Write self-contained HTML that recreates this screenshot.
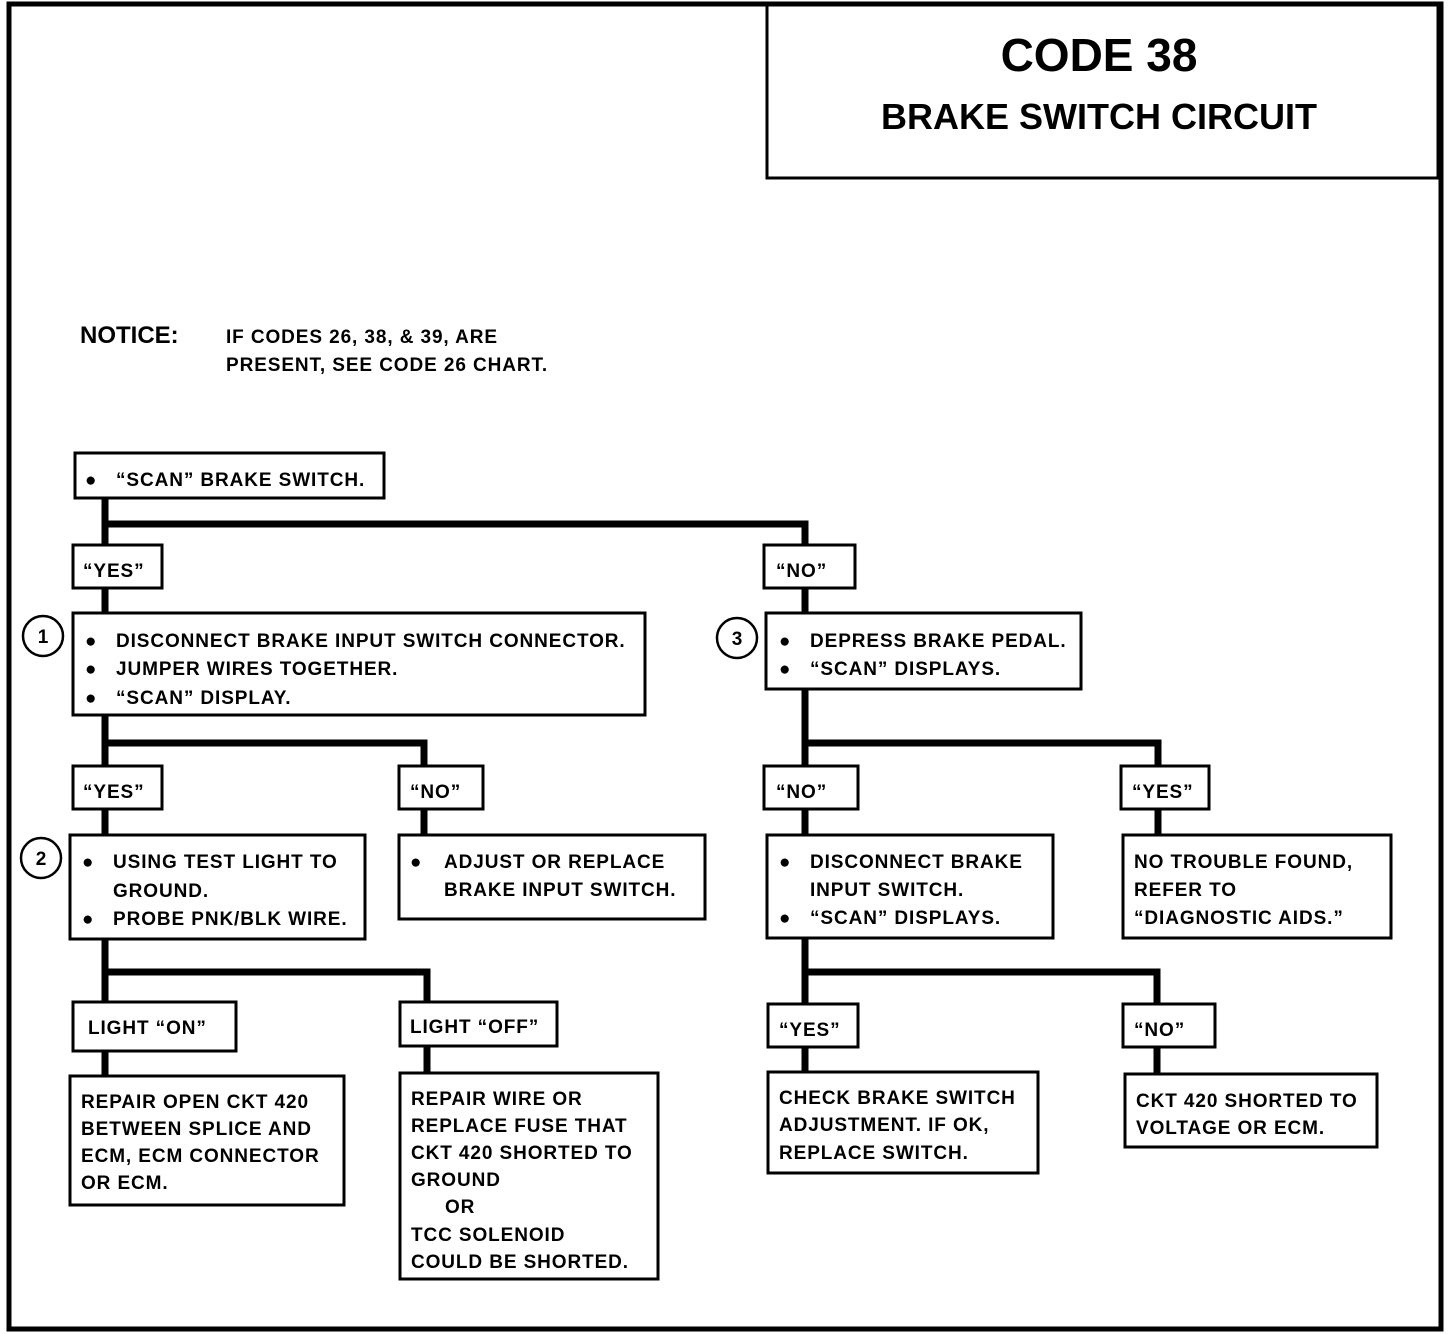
<!DOCTYPE html>
<html><head><meta charset="utf-8"><style>
html,body{margin:0;padding:0;background:#fff}
svg{display:block}
text{font-family:"Liberation Sans",sans-serif;font-weight:bold;fill:#000}
.t{font-size:19px;letter-spacing:0.9px}
</style></head><body>
<svg width="1456" height="1334" viewBox="0 0 1456 1334" xmlns="http://www.w3.org/2000/svg">
<g fill="none" stroke="#000">
<rect x="9" y="4" width="1432" height="1325" stroke-width="5"/>
<rect x="767" y="4" width="671" height="174" stroke-width="3"/>
<g stroke-width="7" stroke-linecap="square">
<path d="M105 498V1002 M105 1051V1076"/>
<path d="M105 524H805V545 M805 588V613 M805 689V1004 M805 1047V1072"/>
<path d="M105 743H424V766 M424 809V835"/>
<path d="M805 743H1158V766 M1158 809V835"/>
<path d="M105 972H427V1002 M427 1046V1073"/>
<path d="M805 972H1157V1004 M1157 1047V1074"/>
</g>
<g stroke-width="3" fill="#fff">
<rect x="75" y="453" width="309" height="45"/>
<rect x="73" y="545" width="89" height="43"/>
<rect x="73" y="613" width="572" height="102"/>
<rect x="73" y="766" width="89" height="43"/>
<rect x="399" y="766" width="84" height="43"/>
<rect x="70" y="835" width="295" height="104"/>
<rect x="399" y="835" width="306" height="84"/>
<rect x="73" y="1002" width="163" height="49"/>
<rect x="400" y="1002" width="157" height="44"/>
<rect x="70" y="1076" width="274" height="129"/>
<rect x="400" y="1073" width="258" height="206"/>
<rect x="764" y="545" width="91" height="43"/>
<rect x="766" y="613" width="315" height="76"/>
<rect x="764" y="766" width="94" height="43"/>
<rect x="1121" y="766" width="88" height="43"/>
<rect x="767" y="835" width="286" height="103"/>
<rect x="1123" y="835" width="268" height="103"/>
<rect x="768" y="1004" width="90" height="43"/>
<rect x="1123" y="1004" width="92" height="43"/>
<rect x="768" y="1072" width="270" height="101"/>
<rect x="1125" y="1074" width="252" height="73"/>
</g>
<g stroke-width="2.5">
<circle cx="43" cy="636" r="20"/>
<circle cx="41" cy="858" r="20"/>
<circle cx="737" cy="638" r="20"/>
</g>
</g>
<text x="1099" y="71" font-size="46" text-anchor="middle">CODE 38</text>
<text x="1099" y="129" font-size="36" text-anchor="middle">BRAKE SWITCH CIRCUIT</text>
<text x="80" y="343" font-size="24">NOTICE:</text>
<text x="226" y="343" class="t">IF CODES 26, 38, &amp; 39, ARE</text>
<text x="226" y="371" class="t">PRESENT, SEE CODE 26 CHART.</text>
<text x="43" y="643" font-size="19" text-anchor="middle">1</text>
<text x="41" y="865" font-size="19" text-anchor="middle">2</text>
<text x="737" y="645" font-size="19" text-anchor="middle">3</text>
<g class="t">
<text x="85" y="486">●</text><text x="116" y="486">“SCAN” BRAKE SWITCH.</text>
<text x="83" y="577">“YES”</text>
<text x="85" y="647">●</text><text x="116" y="647">DISCONNECT BRAKE INPUT SWITCH CONNECTOR.</text>
<text x="85" y="675">●</text><text x="116" y="675">JUMPER WIRES TOGETHER.</text>
<text x="85" y="704">●</text><text x="116" y="704">“SCAN” DISPLAY.</text>
<text x="83" y="798">“YES”</text>
<text x="410" y="798">“NO”</text>
<text x="82" y="868">●</text><text x="113" y="868">USING TEST LIGHT TO</text>
<text x="113" y="897">GROUND.</text>
<text x="82" y="925">●</text><text x="113" y="925">PROBE PNK/BLK WIRE.</text>
<text x="410" y="868">●</text><text x="444" y="868">ADJUST OR REPLACE</text>
<text x="444" y="896">BRAKE INPUT SWITCH.</text>
<text x="88" y="1034">LIGHT “ON”</text>
<text x="410" y="1033">LIGHT “OFF”</text>
<text x="81" y="1108">REPAIR OPEN CKT 420</text>
<text x="81" y="1135">BETWEEN SPLICE AND</text>
<text x="81" y="1162">ECM, ECM CONNECTOR</text>
<text x="81" y="1189">OR ECM.</text>
<text x="411" y="1105">REPAIR WIRE OR</text>
<text x="411" y="1132">REPLACE FUSE THAT</text>
<text x="411" y="1159">CKT 420 SHORTED TO</text>
<text x="411" y="1186">GROUND</text>
<text x="445" y="1213">OR</text>
<text x="411" y="1241">TCC SOLENOID</text>
<text x="411" y="1268">COULD BE SHORTED.</text>
<text x="776" y="577">“NO”</text>
<text x="779" y="647">●</text><text x="810" y="647">DEPRESS BRAKE PEDAL.</text>
<text x="779" y="675">●</text><text x="810" y="675">“SCAN” DISPLAYS.</text>
<text x="776" y="798">“NO”</text>
<text x="1132" y="798">“YES”</text>
<text x="779" y="868">●</text><text x="810" y="868">DISCONNECT BRAKE</text>
<text x="810" y="896">INPUT SWITCH.</text>
<text x="779" y="924">●</text><text x="810" y="924">“SCAN” DISPLAYS.</text>
<text x="1134" y="868">NO TROUBLE FOUND,</text>
<text x="1134" y="896">REFER TO</text>
<text x="1134" y="924">“DIAGNOSTIC AIDS.”</text>
<text x="779" y="1036">“YES”</text>
<text x="1134" y="1036">“NO”</text>
<text x="779" y="1104">CHECK BRAKE SWITCH</text>
<text x="779" y="1131">ADJUSTMENT.  IF OK,</text>
<text x="779" y="1159">REPLACE SWITCH.</text>
<text x="1136" y="1107">CKT 420 SHORTED TO</text>
<text x="1136" y="1134">VOLTAGE OR ECM.</text>
</g>
</svg>
</body></html>
